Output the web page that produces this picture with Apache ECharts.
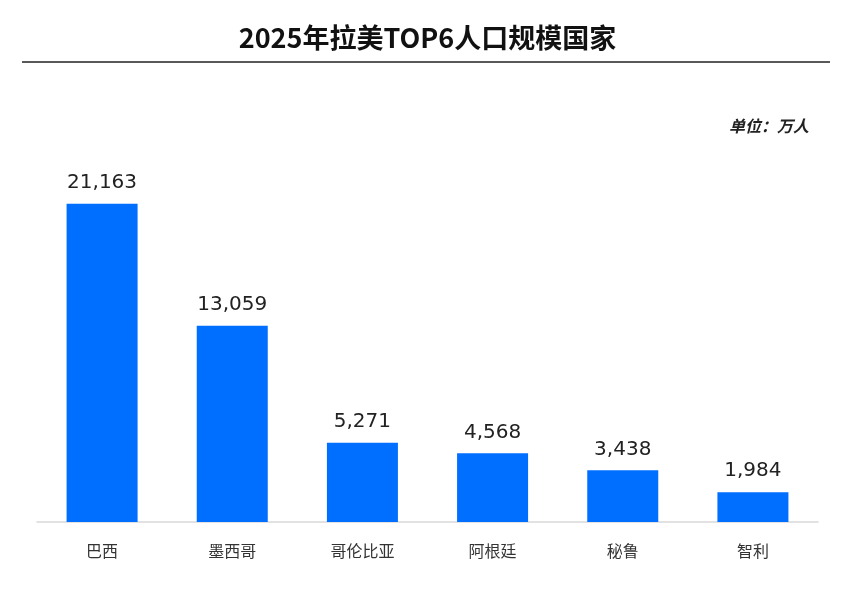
<!DOCTYPE html>
<html><head><meta charset="utf-8">
<script src="https://cdn.jsdelivr.net/npm/echarts@6/dist/echarts.min.js"></script>
<style>html,body{margin:0;padding:0;background:#fff}#c{width:855px;height:595px}</style>
</head><body><div id="c"></div>
<script>
const categories = ['巴西','墨西哥','哥伦比亚','阿根廷','秘鲁','智利'];
const values = [21163, 13059, 5271, 4568, 3438, 1984];
const titleText = '2025年拉美TOP6人口规模国家';
const unitText = '单位：万人';

const chart = echarts.init(document.getElementById('c'));
chart.setOption({
  backgroundColor: '#fff',
  animation: false,
  title: {
    text: titleText, left: 'center', top: 19,
    textStyle: {fontSize: 27, fontWeight: 'bold', color: '#111', fontFamily: 'Noto Sans CJK SC'}
  },
  graphic: [
    {type: 'line', shape: {x1: 22, y1: 62, x2: 830, y2: 62}, style: {stroke: '#222', lineWidth: 1.5}},
    {type: 'text', right: 46, top: 118, style: {text: unitText, fontSize: 16, fontStyle: 'italic', fontWeight: 'bold', fill: '#222', fontFamily: 'Noto Sans CJK SC'}}
  ],
  grid: {left: 37, right: 37, top: 101, bottom: 73, containLabel: false},
  xAxis: {
    type: 'category', data: categories,
    axisLine: {lineStyle: {color: '#d9d9d9', width: 1.5}},
    axisTick: {show: false},
    axisLabel: {margin: 21, fontSize: 16, color: '#333', fontFamily: 'Noto Sans CJK SC'}
  },
  yAxis: {type: 'value', min: 0, max: 28000, show: false, splitLine: {show: false}},
  series: [{
    type: 'bar', data: values, barWidth: 71,
    itemStyle: {color: '#006EFF'},
    label: {
      show: true, position: 'top', distance: 11, fontSize: 20, color: '#222',
      fontFamily: 'DejaVu Sans', fontWeight: 500,
      formatter: p => p.value.toLocaleString('en-US')
    }
  }]
});
</script></body></html>
